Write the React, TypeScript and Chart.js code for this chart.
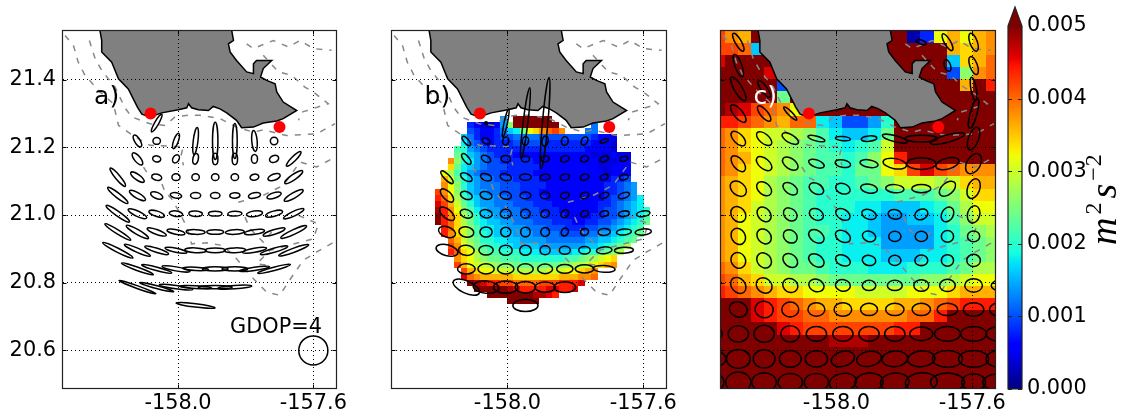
import React, { useEffect, useRef } from "react";
import { Chart, registerables } from "chart.js";

Chart.register(...registerables);

const FONT = '"DejaVu Sans"';
const X_TICKS = [-158.0, -157.6];
const Y_TICKS = [20.6, 20.8, 21.0, 21.2, 21.4];
const X_RANGE = [-158.34, -157.53];
const Y_RANGE = [20.486, 21.544];
const CBAR_TICKS = [0, 0.001, 0.002, 0.003, 0.004, 0.005];
const CBAR_MAX = 0.005;

const stations = [{ x: -158.081, y: 21.3 }, { x: -157.7, y: 21.26 }];

const coast: number[][] = [
  [-158.2305, 21.6], [-158.2305, 21.544], [-158.2256, 21.516], [-158.2256, 21.482], [-158.196, 21.452], [-158.176, 21.403],
  [-158.147, 21.373], [-158.12, 21.319], [-158.107, 21.298], [-158.083, 21.29], [-158.048, 21.302], [-157.999, 21.311],
  [-157.974, 21.317], [-157.969, 21.329], [-157.96, 21.317], [-157.94, 21.311], [-157.91, 21.309], [-157.896, 21.321],
  [-157.876, 21.314], [-157.856, 21.302], [-157.827, 21.28], [-157.812, 21.258], [-157.777, 21.26], [-157.748, 21.272],
  [-157.708, 21.278], [-157.689, 21.285], [-157.649, 21.309], [-157.689, 21.334], [-157.708, 21.364], [-157.713, 21.388],
  [-157.738, 21.398], [-157.756, 21.408], [-157.748, 21.433], [-157.723, 21.457], [-157.768, 21.457], [-157.777, 21.447],
  [-157.777, 21.418], [-157.797, 21.423], [-157.827, 21.457], [-157.846, 21.482], [-157.851, 21.506], [-157.836, 21.516],
  [-157.841, 21.544], [-157.841, 21.6],
];

const contour1 = [[-158.262, 21.516], [-158.245, 21.462], [-158.226, 21.428], [-158.186, 21.378], [-158.157, 21.317], [-158.137, 21.29], [-158.083, 21.27], [-158.038, 21.265], [-158.009, 21.29], [-157.969, 21.295], [-157.935, 21.295], [-157.876, 21.285], [-157.827, 21.26], [-157.777, 21.245], [-157.748, 21.252], [-157.679, 21.235], [-157.59, 21.24], [-157.536, 21.27]];
const contour2 = [[-158.334, 21.531], [-158.309, 21.501], [-158.295, 21.452], [-158.275, 21.413], [-158.231, 21.364], [-158.191, 21.329], [-158.176, 21.265], [-158.127, 21.231], [-158.083, 21.206], [-158.014, 21.203], [-157.984, 21.203], [-157.991, 21.176], [-157.984, 21.147]];
const contour3 = [[-158.102, 21.142], [-158.083, 21.112], [-158.048, 21.093], [-158.038, 21.068], [-158.019, 21.048], [-157.999, 21.014], [-157.974, 20.965], [-157.96, 20.915], [-157.915, 20.918], [-157.866, 20.91], [-157.827, 20.871], [-157.777, 20.812], [-157.738, 20.772], [-157.699, 20.763], [-157.674, 20.802], [-157.63, 20.866], [-157.59, 20.891], [-157.531, 20.925]];
const contour4 = [[-157.822, 21.038], [-157.748, 21.058], [-157.689, 21.088], [-157.639, 21.157], [-157.59, 21.142], [-157.536, 21.171]];
const contour5 = [[-157.797, 21.506], [-157.777, 21.492], [-157.718, 21.516], [-157.674, 21.497], [-157.639, 21.516], [-157.6, 21.492], [-157.546, 21.487]];
const contour6 = [[-157.748, 21.472], [-157.703, 21.423], [-157.664, 21.413], [-157.625, 21.378], [-157.6, 21.364], [-157.556, 21.329], [-157.634, 21.304], [-157.644, 21.28]];
const contour7 = [[-157.644, 20.999], [-157.585, 20.974], [-157.6, 20.93], [-157.728, 20.896], [-157.767, 20.856], [-157.728, 20.851]];
const contour8 = [[-157.802, 20.994], [-157.787, 20.96], [-157.748, 20.92], [-157.723, 20.95]];
const contours = [contour1, contour2, contour3, contour4, contour5, contour6, contour7, contour8];

// error ellipses: [lon offset from -158, semi-major (mdeg), semi-minor (mdeg), angle (deg)]
type Row = [number, number[][]];
const ellipsesA: Row[] = [
  [21.272, [[-0.063, 30, 6, 60]]],
  [21.219, [[-0.12, 20, 8, -60], [-0.063, 11, 10, 0], [-0.006, 24, 7, 70], [0.052, 40, 7, 83], [0.11, 55, 8, 90], [0.168, 52, 7, 90], [0.226, 31, 8, 95], [0.284, 11, 11, 0]]],
  [21.166, [[-0.12, 22, 9, -50], [-0.063, 12, 9, -10], [-0.006, 13, 9, 60], [0.052, 16, 8, 80], [0.11, 17, 8, 90], [0.168, 17, 8, 90], [0.226, 13, 9, 90], [0.284, 14, 10, 20], [0.342, 30, 7, 45]]],
  [21.112, [[-0.178, 35, 7, -50], [-0.12, 24, 8, -35], [-0.063, 15, 9, -15], [-0.006, 12, 10, 0], [0.052, 11, 10, 0], [0.11, 11, 10, 0], [0.168, 11, 10, 0], [0.226, 13, 9, 10], [0.284, 19, 9, 20], [0.342, 32, 8, 35]]],
  [21.058, [[-0.178, 38, 7, -38], [-0.12, 27, 8, -30], [-0.063, 19, 9, -22], [-0.006, 17, 8, -10], [0.052, 15, 9, 0], [0.11, 14, 9, 0], [0.168, 15, 8, 5], [0.226, 18, 8, 10], [0.284, 22, 8, 18], [0.342, 32, 8, 30]]],
  [21.004, [[-0.178, 42, 7, -35], [-0.12, 30, 8, -25], [-0.063, 24, 8, -18], [-0.006, 20, 8, -8], [0.052, 20, 8, -3], [0.11, 20, 7, 0], [0.168, 21, 7, 3], [0.226, 24, 8, 8], [0.284, 26, 8, 15], [0.342, 33, 7, 25]]],
  [20.95, [[-0.178, 45, 6, -32], [-0.12, 38, 7, -30], [-0.063, 30, 7, -20], [-0.006, 27, 7, -12], [0.052, 28, 7, -2], [0.11, 25, 7, 0], [0.168, 28, 7, 3], [0.226, 30, 7, 8], [0.284, 34, 7, 18], [0.342, 42, 7, 25]]],
  [20.896, [[-0.178, 50, 6, -27], [-0.12, 42, 6, -24], [-0.063, 37, 6, -18], [-0.006, 33, 6, -12], [0.052, 32, 7, -3], [0.11, 30, 7, 0], [0.168, 32, 7, 2], [0.226, 36, 6, 10], [0.284, 42, 6, 16], [0.342, 47, 6, 20]]],
  [20.841, [[-0.12, 50, 5, -20], [-0.063, 46, 5, -15], [-0.006, 42, 6, -10], [0.052, 38, 5, -3], [0.11, 38, 6, 0], [0.168, 38, 6, 0], [0.226, 45, 5, 8], [0.284, 50, 5, 15]]],
  [20.787, [[-0.12, 58, 4, -20], [-0.063, 52, 4, -15], [-0.006, 50, 5, -8], [0.052, 47, 4, -3], [0.11, 50, 5, 0], [0.168, 50, 5, 4]]],
  [20.733, [[0.052, 58, 5, -7]]],
  [20.6, [[0.4, 43, 43, 0]]],
];

const ellipsesB: Row[] = [
  [21.272, [[-0.063, 4, 4, 0], [-0.005, 42, 5, 78], [0.053, 105, 7, 83], [0.111, 135, 8, 85]]],
  [21.219, [[-0.121, 17, 7, -50], [-0.063, 12, 8, -30], [-0.005, 12, 9, 80], [0.053, 13, 9, 80], [0.111, 15, 9, 80], [0.169, 13, 10, 80], [0.227, 13, 9, 60], [0.285, 13, 5, 20]]],
  [21.166, [[-0.121, 19, 8, -50], [-0.063, 15, 9, -30], [-0.005, 14, 10, -10], [0.053, 12, 9, 0], [0.111, 12, 9, 10], [0.169, 13, 9, 20], [0.227, 12, 9, 20], [0.285, 13, 8, 20], [0.343, 12, 7, 15]]],
  [21.112, [[-0.178, 25, 8, -45], [-0.121, 19, 10, -30], [-0.063, 17, 10, -20], [-0.005, 17, 10, -15], [0.053, 17, 9, 0], [0.111, 15, 9, 5], [0.169, 14, 9, 15], [0.227, 13, 9, 20], [0.285, 12, 8, 20], [0.343, 13, 8, 15]]],
  [21.058, [[-0.178, 25, 12, -45], [-0.121, 18, 11, -20], [-0.063, 18, 11, -15], [-0.005, 17, 11, -15], [0.053, 16, 10, 0], [0.111, 14, 10, 0], [0.169, 13, 9, 15], [0.227, 13, 9, 20], [0.285, 14, 8, 20], [0.343, 17, 8, 20]]],
  [21.004, [[-0.178, 27, 13, -40], [-0.121, 19, 12, -20], [-0.063, 18, 12, -10], [-0.005, 16, 13, 0], [0.053, 14, 13, 0], [0.111, 13, 11, 30], [0.169, 13, 10, 45], [0.227, 12, 9, 30], [0.285, 13, 8, 15], [0.343, 16, 8, 10], [0.4, 20, 8, 10]]],
  [20.95, [[-0.178, 26, 15, -20], [-0.121, 22, 15, -10], [-0.063, 18, 15, 0], [-0.005, 15, 14, 0], [0.053, 14, 14, 0], [0.111, 13, 13, 60], [0.169, 12, 10, 60], [0.227, 12, 10, 20], [0.285, 18, 10, 5], [0.343, 22, 9, 5], [0.4, 24, 9, 5]]],
  [20.896, [[-0.178, 33, 16, -15], [-0.121, 23, 15, -5], [-0.063, 21, 14, 0], [-0.005, 19, 15, 0], [0.053, 17, 15, 0], [0.111, 15, 13, 0], [0.169, 16, 12, 0], [0.227, 17, 11, 0], [0.285, 23, 10, 5], [0.343, 28, 9, 3]]],
  [20.841, [[-0.121, 26, 15, 0], [-0.063, 24, 15, 0], [-0.005, 24, 15, 0], [0.053, 23, 15, 0], [0.111, 22, 14, 0], [0.169, 24, 13, 0], [0.227, 27, 12, 0], [0.285, 32, 10, -3]]],
  [20.787, [[-0.121, 42, 18, -25], [-0.063, 38, 18, -5], [-0.005, 36, 18, 0], [0.053, 30, 17, 0], [0.111, 30, 15, 0], [0.169, 32, 16, 0]]],
  [20.733, [[0.053, 37, 18, 0]]],
];

const ellipsesC: Row[] = [
  [21.511, [[-0.289, 30, 9, -60], [0.25, 15, 6, -20], [0.327, 28, 9, -60], [0.404, 28, 11, -70], [0.481, 30, 8, 90]]],
  [21.442, [[-0.289, 35, 10, -70], [0.327, 18, 9, -70], [0.404, 28, 11, -70], [0.481, 20, 8, 90]]],
  [21.373, [[-0.289, 40, 12, -60], [-0.213, 30, 9, -55], [0.404, 35, 8, -80], [0.481, 25, 8, 90]]],
  [21.3, [[-0.289, 32, 13, -50], [-0.213, 28, 11, -50], [-0.136, 27, 6, -45], [0.404, 45, 10, 75], [0.481, 25, 8, 90]]],
  [21.226, [[-0.289, 27, 14, -45], [-0.213, 27, 14, -40], [-0.136, 27, 12, -30], [-0.059, 26, 7, -15], [0.019, 22, 6, -5], [0.096, 23, 8, 5], [0.172, 38, 9, -15], [0.25, 48, 10, 0], [0.327, 52, 11, 15], [0.404, 35, 15, 70], [0.481, 25, 8, 90]]],
  [21.152, [[-0.289, 28, 15, -50], [-0.213, 27, 15, -40], [-0.136, 26, 15, -35], [-0.059, 24, 11, -20], [0.019, 23, 11, -10], [0.096, 27, 11, -10], [0.172, 35, 15, -10], [0.25, 43, 17, 0], [0.327, 35, 16, 15], [0.404, 32, 20, 60], [0.481, 30, 10, 90]]],
  [21.078, [[-0.289, 27, 19, -40], [-0.213, 25, 17, -40], [-0.136, 24, 15, -35], [-0.059, 23, 15, -30], [0.019, 22, 15, -20], [0.096, 25, 13, -10], [0.172, 27, 12, -5], [0.25, 28, 12, 0], [0.327, 28, 17, 40], [0.404, 30, 18, 70], [0.481, 28, 10, 90]]],
  [21.002, [[-0.289, 25, 20, -50], [-0.213, 24, 18, -50], [-0.136, 22, 17, -40], [-0.059, 22, 16, -30], [0.019, 23, 15, -30], [0.096, 22, 14, -20], [0.172, 20, 14, -10], [0.25, 20, 15, 25], [0.327, 23, 17, 60], [0.404, 26, 18, 75], [0.481, 25, 10, 90]]],
  [20.937, [[-0.289, 25, 20, -60], [-0.213, 24, 19, -50], [-0.136, 22, 18, -40], [-0.059, 25, 17, -35], [0.019, 24, 16, -30], [0.096, 20, 15, -20], [0.172, 18, 15, 0], [0.25, 18, 15, 0], [0.327, 18, 17, 0], [0.404, 18, 16, 0], [0.481, 25, 10, 90]]],
  [20.866, [[-0.289, 24, 21, -60], [-0.213, 24, 20, -50], [-0.136, 24, 18, -40], [-0.059, 25, 17, -35], [0.019, 23, 15, -25], [0.096, 20, 15, -10], [0.172, 18, 15, 0], [0.25, 19, 16, 0], [0.327, 18, 17, 0], [0.404, 20, 18, 0], [0.481, 25, 12, 90]]],
  [20.792, [[-0.289, 26, 20, -50], [-0.213, 25, 21, -40], [-0.136, 23, 20, -30], [-0.059, 23, 18, -20], [0.019, 22, 17, -10], [0.096, 20, 15, 0], [0.172, 22, 15, 0], [0.25, 22, 17, 0], [0.327, 23, 18, 0], [0.404, 26, 20, 0], [0.481, 25, 15, 0]]],
  [20.721, [[-0.289, 27, 22, -20], [-0.213, 27, 24, -10], [-0.136, 25, 22, 0], [-0.059, 25, 20, 0], [0.019, 26, 20, 0], [0.096, 25, 18, 0], [0.172, 27, 18, 0], [0.25, 27, 18, 0], [0.327, 30, 18, 0], [0.404, 30, 20, 0], [0.481, 30, 20, 0]]],
  [20.649, [[-0.366, 30, 20, 0], [-0.289, 30, 24, 0], [-0.213, 30, 25, 0], [-0.136, 28, 24, 0], [-0.059, 30, 22, 0], [0.019, 30, 22, 0], [0.096, 30, 22, 0], [0.172, 30, 22, 0], [0.25, 34, 20, 0], [0.327, 38, 22, 0], [0.404, 38, 22, 0], [0.481, 40, 22, 0]]],
  [20.575, [[-0.366, 40, 25, 0], [-0.289, 35, 28, 0], [-0.213, 32, 27, 0], [-0.136, 32, 25, 0], [-0.059, 33, 24, 0], [0.019, 35, 22, 15], [0.096, 37, 22, 10], [0.172, 38, 23, 5], [0.25, 40, 23, 5], [0.327, 44, 25, 0], [0.404, 44, 25, 0], [0.481, 40, 25, 0]]],
  [20.506, [[-0.366, 35, 28, 0], [-0.289, 37, 30, 0], [-0.213, 36, 28, 0], [-0.136, 36, 26, 0], [-0.059, 36, 26, 0], [0.019, 40, 26, 10], [0.096, 42, 27, 5], [0.172, 42, 27, 5], [0.25, 47, 28, 5], [0.327, 50, 27, 0], [0.404, 35, 25, 0], [0.481, 50, 25, 0]]],
];

// Colour-level rows: a=0 ... z=0.005 (five letters per 0.001); "." is no data.
const LEVELS = "abcdefghijklmnopqrstuvwxyz";
const LEVEL_STEP = 0.0002;

const gridB = { lon0: -158.2042, dLon: 0.01921, lat0: 21.2851, dLat: 0.01798 };
const rowsB = [
  "..........h.zzzzzz...............",
  ".....edcbdhnzzzzzzz.....g........",
  ".....feddegijmqrtuvt...gg........",
  "....igeddeffggggffffffffeddc.....",
  "....jgfedeeefffffeeeeeeedddc.....",
  "...lkhgfeeeeeeeeeeeeeeeddddc.....",
  "...mkihgfeeeddddddddddddcccdcc...",
  "..tnkjhgffeeeeeddddddddddcccdd...",
  "..rmjihgfffeeeeedddddddddccddd...",
  ".qoljhgfffeeeeedddddddddddcddd...",
  ".spmkihggfffeeeedddddddddddeef...",
  ".tqnkihgggfffeeeedddddddddeefgh..",
  "vtqnkihhggfffeeeddddddddddeefgh..",
  "wuroljihhggfffeeedddddddddeffghj.",
  "xvspmkihhgggfffeeedddddddeefghij.",
  "ywtqnljihhgggfffeeeddddddeffghijk",
  "zwtromkiihhgggfffeeeddddeeffghijl",
  "zwuromkjiihhgggfffeeeddeeffghijkm",
  ".wurpnljjiihhhgggfffeeeffgghijkl.",
  ".wtrpnlkjiiihhhggggffffgghhijklm.",
  "..uspnmkkjjiihhhhgggggghhiijklm..",
  "..vtqomlkkjjiiiihhhhhhhiijklmo...",
  "..wurqomllkkkjjjiiiiijjkklmno....",
  "...trqonmmlllkkkkkkkllmnopqr.....",
  "...vsqpponnnmmmmmmmnnoopqrst.....",
  "....vsrqqpppooooopppqqrst........",
  "....xutsssssrrrrrrrsssttu........",
  ".....zyxwwvvuuuuvvvwwwx..........",
  "......zzzzzyxwwwwxxwwx...........",
  "........zzzzzzzyyxw..............",
  "...........zzzzz.................",
];

const gridC = { lon0: -158.348, dLon: 0.03842, lat0: 21.5278, dLat: 0.03596 };
const rowsC = [
  "vtszzzzzzzzzzzzbeqsqst",
  "vvuizzzzzzzzzzzzzzsrst",
  "xzzzzzzzzzzzzzzzzzirsu",
  "zzzzxzzzzzzzzzzzzzfntu",
  "zzzzzfzzzzzzzzzzzzzszw",
  "zzzzzmzzzzzzzzzzzzzzzz",
  "zyxvutqzzzzzzzzzzzzzzz",
  "wwvutsuujiffhkzzzzzzzz",
  "utrqpponljiijmzzzzzzzz",
  "utrqponmlkjklpzzzzzzzz",
  "utsqponmllklnqwzzzzzzz",
  "utrqponmllkmmqrvxvuttt",
  "tsrqonmllkklmnpppoprss",
  "tsrqonmlkkkkkklllmnprr",
  "tsrponmlkkkjjiiijkmoqq",
  "tsqponmlkkjjihhiijlnpp",
  "tsqponmllkjjihhhhjkmno",
  "tsqponmlkkjjjhhhhjklmn",
  "tsqponmlkkjjjiiijjklmn",
  "utrponmmlkkkjjjkkklmoo",
  "vusrppoonmmmmmmmnnopqq",
  "wvutsrrqqqqppppqqqrsss",
  "zzzxwvutssrrrrsstuvwww",
  "zzzxwvvuuttttttuuwzzzz",
  "zzzzzxwvvvvvvvwwzzzzzz",
  "zzzzzzzzzyyyzzzzzzzzzz",
  "zzzzzzzzzzzzzzzzzzzzzz",
  "zzzzzzzzzzzzzzzzzzzzzz",
  "zzzzzzzzzzzzzzzzzzzzzz",
  "zzzzzzzzzzzzzzzzzzzzzz",
];

const panelLabelA = { text: "a)", x: -158.248, y: 21.329, color: "#000", size: 25 };
const panelLabelB = { text: "b)", x: -158.244, y: 21.329, color: "#000", size: 25 };
const panelLabelC = { text: "c)", x: -158.244, y: 21.329, color: "#fff", size: 25 };
const gdopLabel = { text: "GDOP=4", x: -157.846, y: 20.651, color: "#000", size: 20.83 };

function piece(t: number, pts: number[][]) {
  for (let i = 1; i < pts.length; i++) {
    if (t <= pts[i][0]) {
      const [a, va] = pts[i - 1];
      const [b, vb] = pts[i];
      return va + ((vb - va) * (t - a)) / (b - a);
    }
  }
  return pts[pts.length - 1][1];
}
const JET_R = [[0, 0], [0.35, 0], [0.66, 1], [0.89, 1], [1, 0.5]];
const JET_G = [[0, 0], [0.125, 0], [0.375, 1], [0.64, 1], [0.91, 0], [1, 0]];
const JET_B = [[0, 0.5], [0.11, 1], [0.34, 1], [0.65, 0], [1, 0]];
function jet(t: number) {
  const c = (p: number[][]) => Math.round(255 * piece(Math.min(1, Math.max(0, t)), p));
  return `rgb(${c(JET_R)},${c(JET_G)},${c(JET_B)})`;
}

function cellsFrom(rows: string[], g: { lon0: number; dLon: number; lat0: number; dLat: number }) {
  const out: any[] = [];
  rows.forEach((row, j) => {
    for (let i = 0; i < row.length; i++) {
      const idx = LEVELS.indexOf(row[i]);
      if (idx >= 0) out.push({ x: g.lon0 + i * g.dLon, y: g.lat0 - j * g.dLat, v: idx * LEVEL_STEP });
    }
  });
  return out;
}

function ellipsesFrom(rows: Row[]) {
  const out: any[] = [];
  rows.forEach(([lat, items]) => items.forEach(([off, a, b, t]) => out.push({ x: -158 + off, y: lat, a: a * 0.001, b: b * 0.001, t })));
  return out;
}

const markPlugin = {
  id: "marks",
  afterDatasetDraw(chart: any, args: any) {
    const ds = chart.data.datasets[args.index];
    if (!ds.kind) return;
    const { ctx, chartArea: ca, scales } = chart;
    const sx = scales.x;
    const sy = scales.y;
    ctx.save();
    ctx.beginPath();
    ctx.rect(ca.left, ca.top, ca.right - ca.left, ca.bottom - ca.top);
    ctx.clip();
    const pts = args.meta.data;
    if (ds.kind === "cells") {
      ds.data.forEach((d: any) => {
        const l = Math.round(sx.getPixelForValue(d.x - ds.cellW / 2));
        const r = Math.round(sx.getPixelForValue(d.x + ds.cellW / 2));
        const t = Math.round(sy.getPixelForValue(d.y + ds.cellH / 2));
        const b = Math.round(sy.getPixelForValue(d.y - ds.cellH / 2));
        ctx.fillStyle = jet(d.v / CBAR_MAX);
        ctx.fillRect(l, t, r - l, b - t);
      });
    } else {
      ctx.strokeStyle = "#000";
      ctx.lineWidth = ds.strokeW;
      ds.data.forEach((d: any, i: number) => {
        const rx = Math.abs(sx.getPixelForValue(d.x + d.a) - pts[i].x);
        const ry = Math.abs(sx.getPixelForValue(d.x + d.b) - pts[i].x);
        ctx.beginPath();
        ctx.ellipse(pts[i].x, pts[i].y, rx, ry, (-d.t * Math.PI) / 180, 0, Math.PI * 2);
        ctx.stroke();
      });
    }
    ctx.restore();
  },
};

function framePlugin(labels: any[]) {
  return {
    id: "frame",
    afterDraw(chart: any) {
      const { ctx, chartArea: ca, scales } = chart;
      ctx.save();
      ctx.strokeStyle = "#000";
      ctx.lineWidth = 1;
      const L = Math.round(ca.left) + 0.5 - 1;
      const R = Math.round(ca.right) + 0.5 - 1;
      const T = Math.round(ca.top) + 0.5 - 1;
      const B = Math.round(ca.bottom) + 0.5 - 1;
      ctx.beginPath();
      X_TICKS.forEach((v) => {
        const p = Math.round(scales.x.getPixelForValue(v)) + 0.5;
        ctx.moveTo(p, B); ctx.lineTo(p, B - 4);
        ctx.moveTo(p, T); ctx.lineTo(p, T + 4);
      });
      Y_TICKS.forEach((v) => {
        const p = Math.round(scales.y.getPixelForValue(v)) + 0.5;
        ctx.moveTo(L, p); ctx.lineTo(L + 4, p);
        ctx.moveTo(R, p); ctx.lineTo(R - 4, p);
      });
      ctx.stroke();
      ctx.strokeStyle = "#222";
      ctx.lineWidth = 1.2;
      ctx.strokeRect(L, T, R - L, B - T);
      labels.forEach((l) => {
        ctx.fillStyle = l.color;
        ctx.font = `${l.size}px ${FONT}`;
        ctx.textAlign = "left";
        ctx.textBaseline = "alphabetic";
        ctx.fillText(l.text, scales.x.getPixelForValue(l.x), scales.y.getPixelForValue(l.y));
      });
      ctx.restore();
    },
  };
}

function panelConfig(opts: { cells?: any; ellipses: Row[]; labels: any[]; left: number; right: number; showY: boolean }): any {
  const datasets: any[] = [
    { type: "scatter", data: stations, pointRadius: 6, pointBackgroundColor: "#ff0000", pointBorderWidth: 0, order: 1 },
    { type: "scatter", kind: "ellipses", strokeW: 1.5, data: ellipsesFrom(opts.ellipses), pointRadius: 0, order: 2 },
    ...contours.map((c) => ({
      type: "scatter", data: c.map(([x, y]) => ({ x, y })), showLine: true, pointRadius: 0,
      borderColor: "#888888", borderWidth: 1.5, borderDash: [6, 7], order: 3,
    })),
    {
      type: "scatter", data: coast.map(([x, y]) => ({ x, y })), showLine: true, pointRadius: 0,
      borderColor: "#000", borderWidth: 1.5, fill: "shape", backgroundColor: "#808080", order: 4,
    },
  ];
  if (opts.cells) datasets.push({ type: "scatter", kind: "cells", ...opts.cells, pointRadius: 0, order: 5 });
  return {
    type: "scatter",
    data: { datasets },
    plugins: [markPlugin, framePlugin(opts.labels)],
    options: {
      animation: false,
      responsive: false,
      events: [],
      layout: { padding: { top: 31, right: opts.right, left: 0, bottom: 0 } },
      plugins: { legend: { display: false }, tooltip: { enabled: false } },
      scales: {
        x: {
          type: "linear", min: X_RANGE[0], max: X_RANGE[1],
          afterBuildTicks: (s: any) => { s.ticks = X_TICKS.map((value) => ({ value })); },
          afterFit: (s: any) => { s.height = 30; },
          grid: { color: "#000", lineWidth: 1, z: 1, drawTicks: false },
          border: { display: false, dash: [1, 3] },
          ticks: {
            color: "#000", font: { family: "DejaVu Sans", size: 20.83 }, padding: 2, maxRotation: 0, autoSkip: false,
            callback: (v: number) => v.toFixed(1),
          },
        },
        y: {
          type: "linear", min: Y_RANGE[0], max: Y_RANGE[1],
          afterBuildTicks: (s: any) => { s.ticks = Y_TICKS.map((value) => ({ value })); },
          afterFit: (s: any) => { s.width = opts.left; },
          grid: { color: "#000", lineWidth: 1, z: 1, drawTicks: false },
          border: { display: false, dash: [1, 3] },
          ticks: {
            display: opts.showY, color: "#000", font: { family: "DejaVu Sans", size: 20.83 }, padding: 7, autoSkip: false,
            callback: (v: number) => v.toFixed(1),
          },
        },
      },
    },
  };
}

function colorbarConfig(): any {
  return {
    type: "bar",
    data: {
      labels: [""],
      datasets: [{
        data: [[0, CBAR_MAX]],
        barPercentage: 1,
        categoryPercentage: 1,
        backgroundColor: (c: any) => {
          const a = c.chart.chartArea;
          if (!a) return "#800000";
          const g = c.chart.ctx.createLinearGradient(0, a.bottom, 0, a.top);
          for (let i = 0; i <= 64; i++) g.addColorStop(i / 64, jet(i / 64));
          return g;
        },
      }],
    },
    plugins: [{
      id: "cbarFrame",
      afterDraw(chart: any) {
        const { ctx, chartArea: a, scales } = chart;
        ctx.save();
        const mid = (a.left + a.right) / 2;
        ctx.beginPath();
        ctx.moveTo(a.left, a.top);
        ctx.lineTo(mid, a.top - 19);
        ctx.lineTo(a.right, a.top);
        ctx.closePath();
        ctx.fillStyle = jet(1);
        ctx.fill();
        ctx.beginPath();
        ctx.moveTo(a.left, a.top);
        ctx.lineTo(mid, a.top - 19);
        ctx.lineTo(a.right, a.top);
        ctx.lineTo(a.right, a.bottom);
        ctx.lineTo(a.left, a.bottom);
        ctx.closePath();
        ctx.strokeStyle = "#222";
        ctx.lineWidth = 1.2;
        ctx.stroke();
        ctx.beginPath();
        CBAR_TICKS.forEach((v) => {
          const p = Math.round(scales.y.getPixelForValue(v)) + 0.5;
          ctx.moveTo(a.left, p); ctx.lineTo(a.left + 4, p);
          ctx.moveTo(a.right, p); ctx.lineTo(a.right - 4, p);
        });
        ctx.stroke();
        // rotated axis title
        ctx.translate(1116 - 1000, 245);
        ctx.rotate(-Math.PI / 2);
        ctx.fillStyle = "#000";
        ctx.textBaseline = "alphabetic";
        ctx.textAlign = "left";
        let x = 0;
        const part = (t: string, font: string, rise: number, gap: number) => {
          ctx.font = font;
          ctx.fillText(t, x, -rise);
          x += ctx.measureText(t).width + gap;
        };
        const big = 'italic 38px "Liberation Serif"';
        const small = '24px "Liberation Serif"';
        part("m", big, 0, 3);
        part("2", small, 15, 4);
        part("s", big, 0, 3);
        part("\u2212", small, 15, 1);
        part("2", small, 15, 0);
        ctx.restore();
      },
    }],
    options: {
      animation: false,
      responsive: false,
      events: [],
      layout: { padding: { top: 26, left: 8, right: 0, bottom: 30 } },
      plugins: { legend: { display: false }, tooltip: { enabled: false } },
      scales: {
        x: { display: false },
        y: {
          position: "right", min: 0, max: CBAR_MAX,
          afterBuildTicks: (s: any) => { s.ticks = CBAR_TICKS.map((value) => ({ value })); },
          afterFit: (s: any) => { s.width = 111; },
          grid: { display: false, drawTicks: false },
          border: { display: false },
          ticks: {
            color: "#000", font: { family: "DejaVu Sans", size: 20.83 }, padding: 5, autoSkip: false,
            callback: (v: number) => v.toFixed(3),
          },
        },
      },
    },
  };
}

type Spec = { left: number; width: number; config: () => any };
const specs: Spec[] = [
  { left: 0, width: 360, config: () => panelConfig({ ellipses: ellipsesA, labels: [panelLabelA, gdopLabel], left: 63, right: 23, showY: true }) },
  { left: 360, width: 330, config: () => panelConfig({ ellipses: ellipsesB, labels: [panelLabelB], left: 32, right: 23, showY: false, cells: { data: cellsFrom(rowsB, gridB), cellW: gridB.dLon, cellH: gridB.dLat } }) },
  { left: 690, width: 320, config: () => panelConfig({ ellipses: ellipsesC, labels: [panelLabelC], left: 31, right: 14, showY: false, cells: { data: cellsFrom(rowsC, gridC), cellW: gridC.dLon, cellH: gridC.dLat } }) },
  { left: 1000, width: 133, config: colorbarConfig },
];

export default function App() {
  const refs = useRef<(HTMLCanvasElement | null)[]>([]);
  useEffect(() => {
    const charts = specs.map((s, i) => new Chart(refs.current[i] as HTMLCanvasElement, s.config()));
    return () => charts.forEach((c) => c.destroy());
  }, []);
  return (
    <div style={{ position: "fixed", left: 0, top: 0, width: 1133, height: 419, background: "#fff", overflow: "hidden" }}>
      {specs.map((s, i) => (
        <canvas
          key={i}
          ref={(el) => { refs.current[i] = el; }}
          width={s.width}
          height={419}
          style={{ position: "absolute", left: s.left, top: 0, width: s.width, height: 419, display: "block" }}
        />
      ))}
    </div>
  );
}
